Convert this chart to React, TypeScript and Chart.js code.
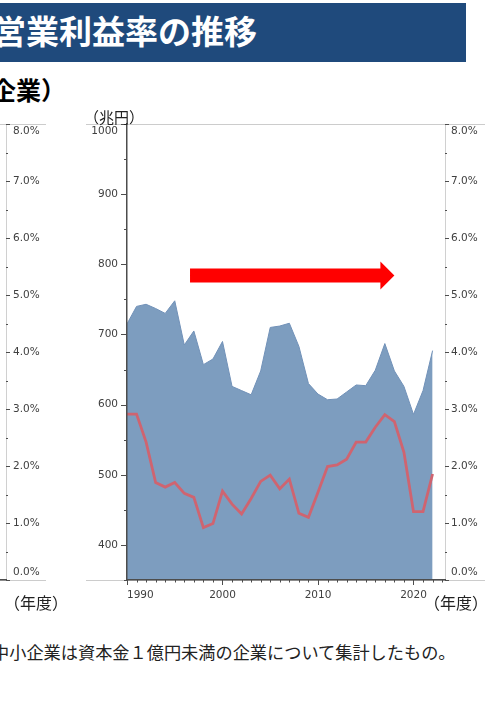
import React, { useEffect, useRef } from 'react';
import { Chart, registerables } from 'chart.js';

Chart.register(...registerables);

// ---- data ----
const YEARS = [
  1990, 1991, 1992, 1993, 1994, 1995, 1996, 1997, 1998, 1999,
  2000, 2001, 2002, 2003, 2004, 2005, 2006, 2007, 2008, 2009,
  2010, 2011, 2012, 2013, 2014, 2015, 2016, 2017, 2018, 2019,
  2020, 2021, 2022,
];
// 売上高（兆円）
const SALES = [
  715, 740, 743, 737, 730, 748, 685, 705, 657, 665,
  690, 626, 620, 614, 648, 710, 712, 716, 683, 630,
  615, 607, 608, 618, 628, 627, 649, 687, 648, 626,
  586, 620, 677,
];
// 営業利益率（%）
const MARGIN = [
  2.91, 2.91, 2.42, 1.71, 1.63, 1.71, 1.52, 1.45, 0.92, 0.99,
  1.56, 1.33, 1.16, 1.43, 1.73, 1.84, 1.60, 1.77, 1.17, 1.10,
  1.54, 1.99, 2.02, 2.12, 2.42, 2.42, 2.68, 2.90, 2.78, 2.24,
  1.20, 1.20, 1.86,
];

const SALES_AXIS = { min: 350, max: 1000, step: 50, labelEvery: 100 };
const PCT_AXIS = { min: 0, max: 8, step: 0.5, labelEvery: 1 };
const YEAR_AXIS = { min: 1990, max: 2023.3, labelEvery: 10, lastMinor: 2023 };
const ARROW = { from: 1996.6, to: 2018, level: 784 };

const TITLE = '営業利益率の推移';
const SUBTITLE = '企業）';
const UNIT_LEFT = '（兆円）';
const UNIT_X = '（年度）';
const NOTE = '中小企業は資本金１億円未満の企業について集計したもの。';

const CJK = '"Noto Sans CJK JP", "Noto Sans", sans-serif';
const TICK_FONT = { family: '"DejaVu Sans", Verdana, sans-serif', size: 10.5, lineHeight: 1.4 };
const TICK_COLOR = '#404040';
const AXIS_DARK = '#4d4d4d';
const AXIS_LIGHT = '#d0d0d0';
const FRAME_GRAY = '#cccccc';

// ---- plugins ----
const frameLinesPlugin = {
  id: 'frameLines',
  beforeDatasetsDraw(chart: any, _a: any, opts: any) {
    if (!opts || !opts.color) return;
    const { ctx, chartArea: a } = chart;
    const t = Math.round(a.top) + 0.5;
    const b = Math.round(a.bottom) + 0.5;
    ctx.save();
    ctx.strokeStyle = opts.color;
    ctx.lineWidth = 1;
    ctx.beginPath();
    ctx.moveTo(a.left - opts.extLeft, t);
    ctx.lineTo(a.right + opts.extRight, t);
    ctx.moveTo(a.left - opts.extLeft, b);
    ctx.lineTo(a.right + opts.extRight, b);
    ctx.stroke();
    ctx.restore();
  },
};

const tickMarksPlugin = {
  id: 'tickMarks',
  afterDraw(chart: any, _a: any, opts: any) {
    const specs = (opts && opts.axes) || [];
    const ctx = chart.ctx;
    for (let k = 0; k < specs.length; k++) {
      const s = specs[k];
      const scale = chart.scales[s.id];
      if (!scale) continue;
      ctx.save();
      ctx.strokeStyle = s.color;
      ctx.lineWidth = 1;
      ctx.beginPath();
      const n = Math.round((s.to - s.from) / s.step);
      for (let i = 0; i <= n; i++) {
        const v = s.from + i * s.step;
        const r = v / s.major;
        const major = Math.abs(r - Math.round(r)) < 1e-6;
        const len = major ? s.majorLen : s.minorLen;
        const p = Math.round(scale.getPixelForValue(v)) + 0.5;
        if (scale.isHorizontal()) {
          ctx.moveTo(p, scale.top);
          ctx.lineTo(p, scale.top + len);
        } else if (scale.position === 'left') {
          ctx.moveTo(scale.right, p);
          ctx.lineTo(scale.right - len, p);
        } else {
          ctx.moveTo(scale.left, p);
          ctx.lineTo(scale.left + len, p);
        }
      }
      ctx.stroke();
      ctx.restore();
    }
  },
};

const arrowPlugin = {
  id: 'trendArrow',
  afterDatasetsDraw(chart: any, _a: any, opts: any) {
    if (!opts || opts.from == null) return;
    const ctx = chart.ctx;
    const x0 = chart.scales.x.getPixelForValue(opts.from);
    const x1 = chart.scales.x.getPixelForValue(opts.to);
    const yc = chart.scales.y.getPixelForValue(opts.level);
    const sh = opts.shaft / 2;
    const hh = opts.head / 2;
    const hl = opts.headLength;
    ctx.save();
    ctx.fillStyle = opts.color;
    ctx.beginPath();
    ctx.moveTo(x0, yc - sh);
    ctx.lineTo(x1 - hl, yc - sh);
    ctx.lineTo(x1 - hl, yc - hh);
    ctx.lineTo(x1, yc);
    ctx.lineTo(x1 - hl, yc + hh);
    ctx.lineTo(x1 - hl, yc + sh);
    ctx.lineTo(x0, yc + sh);
    ctx.closePath();
    ctx.fill();
    ctx.restore();
  },
};

const pctLabel = (v: number) => {
  if (Math.abs(v - Math.round(v)) > 1e-6) return '';
  const t = v.toFixed(1) + '%';
  if (v === PCT_AXIS.max) return ['', t];
  if (v === PCT_AXIS.min) return [t, ''];
  return t;
};

const hiddenGrid = { display: true, drawOnChartArea: false, drawTicks: false };

export default function App() {
  const mainRef = useRef<HTMLCanvasElement | null>(null);
  const partRef = useRef<HTMLCanvasElement | null>(null);

  useEffect(() => {
    if (!mainRef.current || !partRef.current) return;

    const main = new Chart(mainRef.current, {
      type: 'line',
      data: {
        datasets: [
          {
            label: '営業利益率',
            data: YEARS.map((x, i) => ({ x, y: MARGIN[i] })),
            yAxisID: 'y1',
            borderColor: '#cf6470',
            borderWidth: 2.8,
            pointRadius: 0,
            fill: false,
            tension: 0,
            order: 0,
          },
          {
            label: '売上高',
            data: YEARS.map((x, i) => ({ x, y: SALES[i] })),
            yAxisID: 'y',
            borderColor: '#7191b8',
            borderWidth: 1,
            backgroundColor: '#7d9dbf',
            fill: 'start',
            pointRadius: 0,
            tension: 0,
            order: 1,
          },
        ],
      } as any,
      options: {
        responsive: false,
        animation: false,
        layout: { padding: { top: 24, left: 0, right: 0, bottom: 0 } },
        plugins: {
          legend: { display: false },
          tooltip: { enabled: false },
          frameLines: { color: FRAME_GRAY, extLeft: 41, extRight: 40 },
          tickMarks: {
            axes: [
              { id: 'y', from: SALES_AXIS.min, to: SALES_AXIS.max, step: SALES_AXIS.step, major: SALES_AXIS.labelEvery, majorLen: 6, minorLen: 3, color: AXIS_DARK },
              { id: 'y1', from: PCT_AXIS.min, to: PCT_AXIS.max, step: PCT_AXIS.step, major: PCT_AXIS.labelEvery, majorLen: 4, minorLen: 2, color: AXIS_DARK },
              { id: 'x', from: YEAR_AXIS.min, to: YEAR_AXIS.lastMinor, step: 1, major: YEAR_AXIS.labelEvery, majorLen: 5, minorLen: 2.5, color: AXIS_DARK },
            ],
          },
          trendArrow: { from: ARROW.from, to: ARROW.to, level: ARROW.level, color: '#ff0000', shaft: 14, head: 28, headLength: 14 },
        } as any,
        scales: {
          x: {
            type: 'linear',
            position: 'bottom',
            min: YEAR_AXIS.min,
            max: YEAR_AXIS.max,
            afterFit: (s: any) => { s.height = 40; },
            grid: hiddenGrid,
            border: { color: AXIS_DARK, width: 1.5, z: 1 },
            ticks: {
              stepSize: 1,
              autoSkip: false,
              includeBounds: false,
              minRotation: 0,
              maxRotation: 0,
              padding: 9,
              color: TICK_COLOR,
              font: { ...TICK_FONT, lineHeight: 1.2 },
              callback: (v: any) => {
                const n = Number(v);
                if (n === YEAR_AXIS.min) return '        ' + String(n);
                return Number.isInteger(n) && n % YEAR_AXIS.labelEvery === 0 ? String(n) : '';
              },
            },
          },
          y: {
            type: 'linear',
            position: 'left',
            min: SALES_AXIS.min,
            max: SALES_AXIS.max,
            afterFit: (s: any) => { s.width = 47; },
            grid: hiddenGrid,
            border: { color: AXIS_DARK, width: 1.5, z: 1 },
            ticks: {
              stepSize: SALES_AXIS.step,
              autoSkip: false,
              padding: 9,
              color: TICK_COLOR,
              font: TICK_FONT,
              callback: (v: any) => {
                const n = Number(v);
                if (n % SALES_AXIS.labelEvery !== 0) return '';
                if (n === SALES_AXIS.max) return ['', String(n)];
                return String(n);
              },
            },
          },
          y1: {
            type: 'linear',
            position: 'right',
            min: PCT_AXIS.min,
            max: PCT_AXIS.max,
            afterFit: (s: any) => { s.width = 56; },
            grid: hiddenGrid,
            border: { color: AXIS_LIGHT, width: 1 },
            ticks: {
              stepSize: PCT_AXIS.step,
              autoSkip: false,
              padding: 6,
              color: TICK_COLOR,
              font: TICK_FONT,
              callback: (v: any) => pctLabel(Number(v)),
            },
          },
        } as any,
      },
      plugins: [frameLinesPlugin, tickMarksPlugin, arrowPlugin],
    });

    const part = new Chart(partRef.current, {
      type: 'line',
      data: { datasets: [] },
      options: {
        responsive: false,
        animation: false,
        layout: { padding: { top: 24, left: 0, right: 0, bottom: 0 } },
        plugins: {
          legend: { display: false },
          tooltip: { enabled: false },
          frameLines: { color: FRAME_GRAY, extLeft: 0, extRight: 40 },
          tickMarks: {
            axes: [
              { id: 'y', from: PCT_AXIS.min, to: PCT_AXIS.max, step: PCT_AXIS.step, major: PCT_AXIS.labelEvery, majorLen: 4, minorLen: 2, color: AXIS_DARK },
            ],
          },
        } as any,
        scales: {
          x: {
            type: 'linear',
            position: 'bottom',
            min: 0,
            max: 1,
            afterFit: (s: any) => { s.height = 40; },
            grid: hiddenGrid,
            border: { color: AXIS_DARK, width: 1.5, z: 1 },
            ticks: { display: false },
          },
          y: {
            type: 'linear',
            position: 'right',
            min: PCT_AXIS.min,
            max: PCT_AXIS.max,
            afterFit: (s: any) => { s.width = 44; },
            grid: hiddenGrid,
            border: { color: AXIS_LIGHT, width: 1 },
            ticks: {
              stepSize: PCT_AXIS.step,
              autoSkip: false,
              padding: 7,
              color: TICK_COLOR,
              font: TICK_FONT,
              callback: (v: any) => pctLabel(Number(v)),
            },
          },
        } as any,
      },
      plugins: [frameLinesPlugin, tickMarksPlugin],
    });

    return () => {
      main.destroy();
      part.destroy();
    };
  }, []);

  const abs = (extra: React.CSSProperties): React.CSSProperties => ({
    position: 'absolute',
    whiteSpace: 'nowrap',
    fontFamily: CJK,
    ...extra,
  });

  return (
    <div style={{ position: 'fixed', left: 0, top: 0, width: 501, height: 719, overflow: 'hidden', background: '#ffffff' }}>
      <div style={{ position: 'absolute', left: 0, top: 3, width: 466, height: 59, background: '#1f4a7c' }} />
      <div style={abs({ left: -7, top: 1, height: 59, lineHeight: '59px', fontSize: 33, fontWeight: 700, color: '#ffffff' })}>{TITLE}</div>
      <div style={abs({ left: -9, top: 74, lineHeight: '30px', fontSize: 25, fontWeight: 700, color: '#000000' })}>{SUBTITLE}</div>

      <canvas ref={partRef} width={150} height={520} style={{ position: 'absolute', left: -100, top: 100 }} />
      <canvas ref={mainRef} width={421} height={520} style={{ position: 'absolute', left: 80, top: 100 }} />

      <div style={abs({ left: 84, top: 108, lineHeight: '18px', fontSize: 15, color: '#222' })}>{UNIT_LEFT}</div>
      <div style={abs({ left: 4, top: 593, lineHeight: '19px', fontSize: 16, color: '#222' })}>{UNIT_X}</div>
      <div style={abs({ left: 424, top: 593, lineHeight: '19px', fontSize: 16, color: '#222' })}>{UNIT_X}</div>

      <div style={abs({ left: -8, top: 642, lineHeight: '20px', fontSize: 17.2, color: '#222' })}>{NOTE}</div>
    </div>
  );
}
